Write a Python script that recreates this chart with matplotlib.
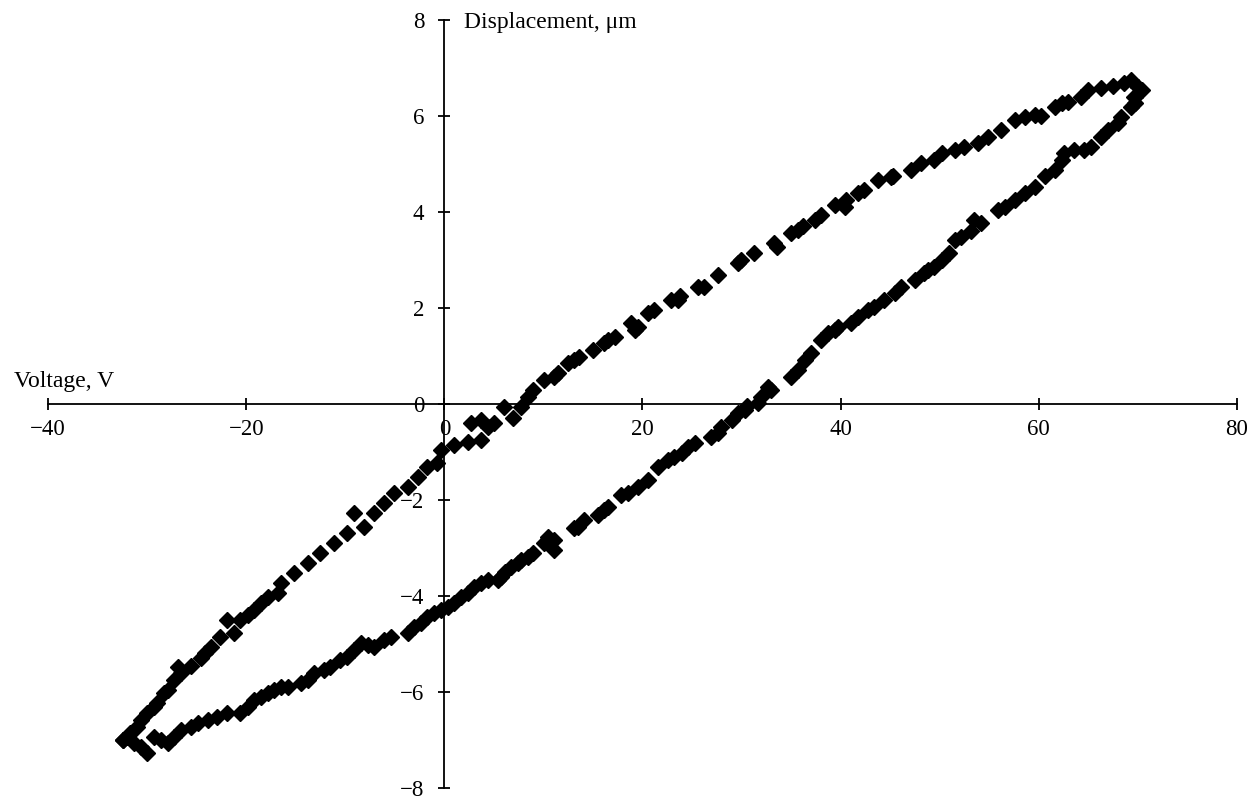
import matplotlib
matplotlib.use("Agg")
import matplotlib.pyplot as plt

# rising branch of the loop
up_volt = [-32.4, -31.8, -31.7, -31.0, -30.6, -30.0, -29.3, -29.0, -28.3, -27.9,
           -27.3, -26.9, -26.6, -25.6, -24.6, -24.2, -23.6, -22.6, -21.9, -21.2,
           -20.6, -19.8, -19.2, -18.5, -17.8, -16.8, -16.5, -15.2, -13.8, -12.5,
           -11.1, -9.8, -9.1, -8.1, -7.1, -6.1, -5.1, -3.7, -2.7, -1.7,
           -0.7, -0.35, 1.0, 2.4, 2.7, 3.7, 3.7, 4.4, 5.0, 6.0,
           6.9, 7.7, 8.4, 9.0, 10.1, 11.1, 11.5, 12.5, 13.1, 13.6,
           15.0, 16.1, 16.5, 17.2, 18.8, 19.2, 19.5, 20.6, 21.2, 22.9,
           23.6, 23.8, 25.6, 26.2, 27.6, 29.6, 29.9, 31.3, 33.3, 33.6,
           35.0, 35.7, 36.2, 37.4, 38.0, 39.4, 40.4, 40.5, 41.8, 42.4,
           43.8, 45.1, 45.3, 47.1, 48.1, 49.4, 50.2, 51.5, 52.5, 53.9,
           54.9, 56.2, 57.6, 58.6, 59.6, 60.2, 61.6, 62.3, 63.0, 64.3,
           65.0, 66.3, 67.5, 68.6, 69.3, 69.7, 70.4]
up_disp = [-7.0, -6.9, -6.85, -6.73, -6.58, -6.44, -6.31, -6.23, -6.02, -5.96,
           -5.75, -5.48, -5.6, -5.45, -5.3, -5.19, -5.06, -4.85, -4.5, -4.77,
           -4.5, -4.4, -4.29, -4.15, -4.02, -3.94, -3.73, -3.52, -3.31, -3.1,
           -2.9, -2.69, -2.27, -2.56, -2.27, -2.06, -1.85, -1.73, -1.52, -1.31,
           -1.23, -0.96, -0.85, -0.8, -0.4, -0.75, -0.33, -0.48, -0.4, -0.06,
           -0.3, -0.06, 0.15, 0.29, 0.5, 0.56, 0.65, 0.85, 0.92, 0.98,
           1.12, 1.27, 1.33, 1.4, 1.68, 1.54, 1.6, 1.89, 1.96, 2.17,
           2.17, 2.25, 2.44, 2.44, 2.69, 2.93, 3.0, 3.14, 3.35, 3.27,
           3.56, 3.62, 3.7, 3.83, 3.94, 4.15, 4.1, 4.25, 4.4, 4.46,
           4.67, 4.73, 4.75, 4.88, 5.02, 5.08, 5.23, 5.29, 5.35, 5.44,
           5.56, 5.71, 5.92, 5.98, 6.02, 6.0, 6.19, 6.27, 6.3, 6.4,
           6.54, 6.58, 6.62, 6.69, 6.75, 6.4, 6.54]

# falling branch of the loop
down_volt = [70.0, 69.7, 69.6, 69.3, 68.3, 68.0, 67.0, 66.3, 65.3, 64.6,
             63.6, 62.6, 62.3, 61.6, 60.6, 59.6, 58.6, 57.6, 56.6, 55.9,
             54.2, 53.5, 53.2, 52.2, 51.5, 50.9, 50.2, 49.4, 48.8, 48.4,
             47.5, 46.1, 45.5, 44.4, 43.4, 42.8, 41.8, 41.1, 39.7, 39.4,
             38.7, 38.0, 37.0, 36.4, 35.7, 35.0, 33.0, 32.7, 32.0, 31.7,
             30.6, 30.3, 29.6, 29.0, 27.9, 27.6, 26.9, 25.3, 24.6, 24.0,
             23.2, 22.6, 21.6, 20.6, 19.5, 18.5, 17.8, 16.5, 16.1, 15.5,
             14.1, 13.5, 13.1, 11.1, 11.1, 10.5, 10.1, 9.0, 8.4, 7.7,
             7.4, 6.7, 6.1, 5.7, 5.4, 4.4, 3.7, 3.0, 2.4, 1.7,
             1.0, 0.35, -0.35, -1.0, -1.7, -2.4, -3.1, -3.7, -5.4, -6.1,
             -7.1, -7.7, -8.4, -9.1, -9.8, -10.5, -11.5, -12.1, -13.2, -13.8,
             -14.5, -15.8, -16.5, -17.2, -17.8, -18.5, -19.2, -19.8, -20.6, -21.9,
             -22.9, -23.9, -24.9, -25.6, -26.6, -27.3, -27.9, -28.6, -29.3, -30.0,
             -30.6, -31.3, -32.0, -32.4]
down_disp = [6.6, 6.27, 6.4, 6.19, 5.98, 5.85, 5.71, 5.56, 5.35, 5.29,
             5.29, 5.23, 5.08, 4.88, 4.75, 4.52, 4.4, 4.25, 4.1, 4.04,
             3.77, 3.83, 3.6, 3.48, 3.42, 3.14, 3.0, 2.85, 2.79, 2.73,
             2.58, 2.44, 2.31, 2.17, 2.02, 1.96, 1.81, 1.69, 1.6, 1.54,
             1.48, 1.33, 1.06, 0.92, 0.71, 0.56, 0.29, 0.35, 0.15, 0.02,
             -0.05, -0.12, -0.19, -0.33, -0.48, -0.6, -0.69, -0.81, -0.9, -1.02,
             -1.1, -1.17, -1.31, -1.58, -1.73, -1.85, -1.9, -2.15, -2.21, -2.31,
             -2.42, -2.56, -2.58, -2.83, -3.04, -2.77, -2.9, -3.1, -3.19, -3.25,
             -3.31, -3.4, -3.5, -3.6, -3.67, -3.67, -3.73, -3.81, -3.94, -4.02,
             -4.15, -4.23, -4.29, -4.35, -4.44, -4.56, -4.65, -4.77, -4.85, -4.92,
             -5.06, -5.02, -4.98, -5.13, -5.27, -5.33, -5.48, -5.54, -5.6, -5.75,
             -5.81, -5.9, -5.9, -5.96, -6.02, -6.1, -6.17, -6.31, -6.44, -6.44,
             -6.52, -6.58, -6.65, -6.73, -6.79, -6.94, -7.06, -7.0, -6.94, -7.27,
             -7.15, -7.06, -6.94, -7.0]

x_ticks = [-40, -20, 0, 20, 40, 60, 80]
y_ticks = [-8, -6, -4, -2, 0, 2, 4, 6, 8]

plt.rcParams['font.family'] = ['Liberation Serif', 'DejaVu Serif']

fig = plt.figure(figsize=(12.58, 8), dpi=100)
ax = fig.add_axes([0.0382, 0.015, 0.945, 0.96])

ax.plot(up_volt, up_disp, linestyle='none', marker='D', ms=8, color='black')
ax.plot(down_volt, down_disp, linestyle='none', marker='D', ms=8, color='black')

ax.set_xlim(-40, 80)
ax.set_ylim(-8, 8)

# axes cross at the origin
ax.spines['left'].set_position(('data', 0))
ax.spines['bottom'].set_position(('data', 0))
ax.spines['top'].set_visible(False)
ax.spines['right'].set_visible(False)
for s in ('left', 'bottom'):
    ax.spines[s].set_linewidth(1.3)

ax.set_xticks(x_ticks)
ax.set_yticks(y_ticks)
ax.tick_params(direction='inout', length=9, width=1.3, labelsize=16.5, pad=6)
ax.tick_params(axis='y', pad=10)

ax.text(-43.4, 0.35, 'Voltage, V', fontsize=17, ha='left', va='baseline')
ax.text(2.0, 7.94, 'Displacement, μm', fontsize=17, ha='left', va='center')

fig.savefig('out.png', dpi=100)
